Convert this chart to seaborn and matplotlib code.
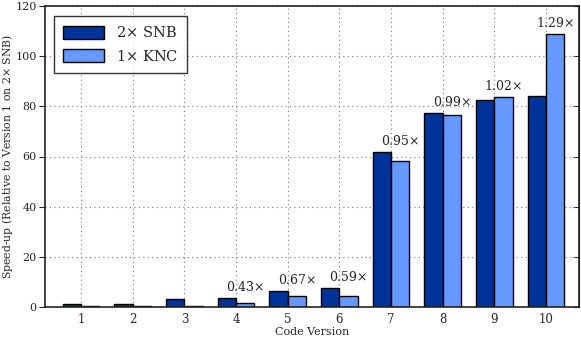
import matplotlib
matplotlib.use("Agg")
import matplotlib.pyplot as plt
import seaborn as sns
import pandas as pd

versions = ["1", "2", "3", "4", "5", "6", "7", "8", "9", "10"]
snb = [1.0, 1.2, 3.3, 3.4, 6.4, 7.5, 61.7, 77.2, 82.4, 84.0]
knc = [0.2, 0.3, 0.3, 1.5, 4.3, 4.4, 58.2, 76.6, 83.7, 108.7]
ratio_labels = ["", "", "", "0.43", "0.67", "0.59", "0.95", "0.99", "1.02", "1.29"]
series = ["2$\\times$ SNB", "1$\\times$ KNC"]
colors = ["#003399", "#6699ff"]

sns.set_style("white")
plt.rcParams["font.family"] = ["DejaVu Serif"]
plt.rcParams["mathtext.fontset"] = "dejavuserif"

df = pd.DataFrame({
    "Code Version": versions * 2,
    "Speed-up": snb + knc,
    "Platform": [series[0]] * len(versions) + [series[1]] * len(versions),
})

fig = plt.figure(figsize=(5.81, 3.43), dpi=100)
ax = fig.add_axes([45 / 581, 36 / 343, 534 / 581, 301 / 343])
sns.barplot(data=df, x="Code Version", y="Speed-up", hue="Platform",
            palette=colors, width=0.71, gap=0, edgecolor="black",
            linewidth=1.0, ax=ax, saturation=1)

ax.set_ylim(0, 120)
ax.set_xlim(-0.7, 9.64)
ax.set_yticks(range(0, 121, 20))
ax.grid(True, linestyle=(0, (1, 3)), color="#777777", linewidth=0.8)
ax.set_axisbelow(True)
for s in ax.spines.values():
    s.set_color("#222222")
    s.set_linewidth(1.2)
ax.tick_params(axis="y", direction="out", length=4, labelsize=8, left=True, pad=2)
ax.tick_params(axis="x", length=0, labelsize=8.5, pad=4)
ax2 = ax.secondary_yaxis("right")
ax2.set_yticks(range(0, 121, 20))
ax2.tick_params(direction="in", length=4, labelright=False)
ax.set_xlabel("Code Version", fontsize=8, labelpad=1)
ax.set_ylabel("Speed-up (Relative to Version 1 on 2$\\times$ SNB)", fontsize=7.8)
ax.yaxis.set_label_coords(-0.056, 0.5)

# ratio labels above each pair, centred on the KNC bar
knc_bars = ax.containers[1]
for i, lab in enumerate(ratio_labels):
    if not lab:
        continue
    bar = knc_bars[i]
    xc = bar.get_x() + bar.get_width() / 2
    top = max(snb[i], knc[i])
    ax.annotate(lab + "$\\times$", (xc, top), xytext=(0, 3), textcoords="offset points",
                ha="center", va="bottom", fontsize=9)

leg = ax.legend(loc="upper left", fontsize=10.5, frameon=True, fancybox=False,
                edgecolor="black", handlelength=2.8, handleheight=1.0,
                borderpad=0.6, labelspacing=0.6, bbox_to_anchor=(0.004, 0.99))
leg.get_frame().set_linewidth(1.0)
leg.set_title(None)

fig.savefig("out.png", dpi=100)
